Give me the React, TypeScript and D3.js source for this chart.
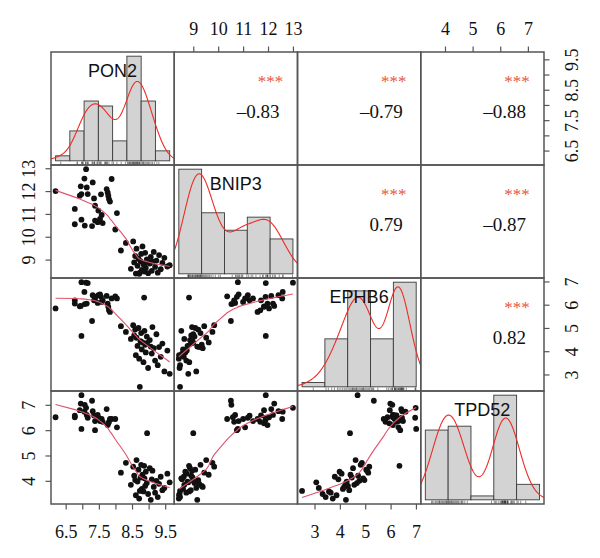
import { useEffect, useRef } from 'react';
import * as d3 from 'd3';

// Expression values per sample (69 samples, same order in every array)
const pon2 = [
  6.18, 7.1, 7.05, 6.94, 7.12, 7.3, 7.87, 6.96, 6.91, 7.15, 7.34, 7.55, 7.72, 7.75, 7.77, 7.79,
  7.82, 6.76, 7.37, 7.47, 7.57, 8.03, 6.96, 6.76, 7.06, 7.28, 7.37, 7.45, 7.52, 7.6, 7.98,
  8.15, 8.3, 8.45, 8.52, 8.55, 8.58, 8.6, 8.62, 8.65, 8.68, 8.7, 8.74, 8.76, 8.78, 8.8, 8.83,
  8.86, 8.88, 8.9, 8.93, 8.97, 9.02, 9.05, 9.08, 9.1, 9.14, 9.18, 9.22, 9.26, 9.3, 9.35, 9.4,
  9.46, 9.55, 9.62, 8.72, 8.85, 8.94,
];
const bnip3 = [
  12.02, 12.98, 12.57, 12.23, 12.18, 12.4, 12.55, 11.89, 11.82, 11.89, 11.7, 11.88, 12.11, 11.96,
  11.82, 11.67, 11.56, 11.24, 11.38, 11.17, 10.98, 11.06, 10.77, 10.57, 10.51, 10.49, 10.73, 10.66,
  10.8, 10.62, 10.34,
  9.42, 9.75, 8.62, 9.82, 8.9, 9.18, 8.41, 9.5, 8.75, 9.06, 8.4, 8.95, 9.27, 8.57, 9.6, 8.82,
  8.5, 9.32, 8.66, 9.03, 8.43, 8.85, 9.14, 8.53, 8.93, 9.36, 8.7, 8.98, 8.45, 9.22, 8.6, 8.88,
  9.1, 8.72, 8.78, 8.45, 8.81, 8.98,
];
const ephb6 = [
  5.86, 6.97, 6.57, 5.97, 6.07, 6.43, 6.29, 4.68, 5.95, 6.95, 6.21, 6.36, 6.4, 6.07, 5.93, 5.78,
  5.71, 6.21, 6.29, 6.43, 6.14, 6.29, 6.99, 6.07, 6.05, 5.32, 6.36, 6.1, 6.47, 6.21, 6.38,
  5.1, 4.85, 4.55, 5.14, 4.7, 4.95, 3.85, 4.6, 4.25, 5.02, 3.7, 4.45, 4.8, 4.1, 4.4, 3.55,
  4.9, 4.3, 3.97, 4.65, 3.3, 4.5, 4.22, 3.92, 5.06, 4.15, 3.62, 4.75, 3.42, 4.2, 3.78, 4.35,
  3.15, 4.05, 3.05, 2.49, 6.33, 4.38,
];
const tpd52 = [
  6.53, 6.9, 6.75, 7.07, 6.62, 6.77, 6.46, 7.4, 6.81, 6.51, 6.6, 6.42, 6.85, 6.22, 6.29, 6.35,
  6.46, 6.59, 6.38, 6.51, 6.46, 6.13, 6.07, 6.53, 7.02, 7.18, 6.02, 6.62, 6.38, 6.35, 6.46,
  4.34, 4.73, 3.86, 4.58, 4.22, 4.05, 3.45, 4.84, 3.99, 4.46, 3.32, 4.15, 4.65, 3.7, 4.26, 3.6,
  4.12, 3.82, 4.38, 3.93, 3.5, 4.52, 3.27, 4.08, 4.42, 3.78, 3.55, 4.02, 3.38, 3.9, 4.18, 3.65,
  3.74, 4.3, 3.96, 3.62, 4.61, 5.9,
];

const genes = ['PON2', 'BNIP3', 'EPHB6', 'TPD52'];
const series = [pon2, bnip3, ephb6, tpd52];

// histogram breaks
const pon2Breaks = [6, 6.5, 7, 7.5, 8, 8.5, 9, 9.5, 10];
const bnip3Breaks = [8, 9, 10, 11, 12, 13];
const ephb6Breaks = [2, 3, 4, 5, 6, 7];
const tpd52Breaks = [3, 4, 5, 6, 7, 8];
const breaks = [pon2Breaks, bnip3Breaks, ephb6Breaks, tpd52Breaks];

// axis ticks and the ones that get a label
const pon2Ticks = [6.5, 7, 7.5, 8, 8.5, 9, 9.5];
const pon2Labels = [6.5, 7.5, 8.5, 9.5];
const bnip3Ticks = [9, 10, 11, 12, 13];
const ephb6Ticks = [3, 4, 5, 6, 7];
const tpd52Ticks = [4, 5, 6, 7];
const ticks = [pon2Ticks, bnip3Ticks, ephb6Ticks, tpd52Ticks];
const tickLabels = [pon2Labels, bnip3Ticks, ephb6Ticks, tpd52Ticks];

// upper triangle: correlation text and significance
const corrCells = [
  [0, 1],
  [0, 2],
  [0, 3],
  [1, 2],
  [1, 3],
  [2, 3],
];
const corrText = ['\u20130.83', '\u20130.79', '\u20130.88', '0.79', '\u20130.87', '0.82'];
const corrStars = ['***', '***', '***', '***', '***', '***'];

const W = 600;
const H = 558;
const LEFT = 51;
const TOP = 52;
const CELL_W = 123.25;
const CELL_H = 113;
const SERIF = '"Liberation Serif", "Times New Roman", serif';
const SANS = '"Liberation Sans", Arial, sans-serif';

const padded = (v: number[]) => {
  const [a, b] = d3.extent(v) as [number, number];
  const p = (b - a) * 0.04;
  return [a - p, b + p];
};

// R-style lowess (f = 2/3, 3 robustness iterations)
function lowess(xIn: number[], yIn: number[], f = 2 / 3, iter = 3): [number, number][] {
  const order = d3.range(xIn.length).sort((a, b) => xIn[a] - xIn[b]);
  const x = order.map((i) => xIn[i]);
  const y = order.map((i) => yIn[i]);
  const n = x.length;
  const ns = Math.max(2, Math.min(n, Math.floor(f * n + 1e-7)));
  const range = x[n - 1] - x[0];
  const rw = new Array(n).fill(1);
  const fit = new Array(n).fill(0);

  for (let it = 0; it <= iter; it++) {
    let nleft = 0;
    let nright = ns - 1;
    for (let i = 0; i < n; i++) {
      while (nright < n - 1 && x[i] - x[nleft] > x[nright + 1] - x[i]) {
        nleft++;
        nright++;
      }
      const h = Math.max(x[i] - x[nleft], x[nright] - x[i]);
      const w = new Array(n).fill(0);
      let sw = 0;
      let last = nleft;
      for (let j = nleft; j < n; j++) {
        const r = Math.abs(x[j] - x[i]);
        if (r <= 0.999 * h) {
          w[j] = (r <= 0.001 * h ? 1 : Math.pow(1 - Math.pow(r / h, 3), 3)) * rw[j];
          sw += w[j];
          last = j;
        } else if (x[j] > x[i]) break;
      }
      if (sw <= 0) {
        fit[i] = y[i];
        continue;
      }
      for (let j = nleft; j <= last; j++) w[j] /= sw;
      if (h > 0) {
        let a = 0;
        for (let j = nleft; j <= last; j++) a += w[j] * x[j];
        let b = x[i] - a;
        let c = 0;
        for (let j = nleft; j <= last; j++) c += w[j] * (x[j] - a) * (x[j] - a);
        if (Math.sqrt(c) > 0.001 * range) {
          b /= c;
          for (let j = nleft; j <= last; j++) w[j] *= b * (x[j] - a) + 1;
        }
      }
      let s = 0;
      for (let j = nleft; j <= last; j++) s += w[j] * y[j];
      fit[i] = s;
    }
    if (it === iter) break;
    const res = y.map((v, i) => Math.abs(v - fit[i]));
    const cmad = 6 * (d3.median(res) as number);
    if (cmad < 1e-7 * (d3.mean(y, (v) => Math.abs(v)) as number)) break;
    for (let i = 0; i < n; i++) {
      const r = res[i];
      rw[i] = r <= 0.001 * cmad ? 1 : r <= 0.999 * cmad ? Math.pow(1 - (r / cmad) ** 2, 2) : 0;
    }
  }
  return x.map((v, i) => [v, fit[i]]);
}

// gaussian kernel density with the nrd0 bandwidth, like R's density()
function density(v: number[]): [number, number][] {
  const n = v.length;
  const sorted = v.slice().sort(d3.ascending);
  const sd = d3.deviation(v) as number;
  const iqr = (d3.quantile(sorted, 0.75) as number) - (d3.quantile(sorted, 0.25) as number);
  const bw = 0.9 * Math.min(sd, iqr / 1.34) * Math.pow(n, -0.2);
  const lo = sorted[0] - 3 * bw;
  const hi = sorted[n - 1] + 3 * bw;
  return d3.range(512).map((i) => {
    const x = lo + ((hi - lo) * i) / 511;
    const y =
      (d3.sum(v, (d) => Math.exp(-0.5 * ((x - d) / bw) ** 2)) / (n * bw)) / Math.sqrt(2 * Math.PI);
    return [x, y];
  });
}

export default function App() {
  const svgRef = useRef<SVGSVGElement>(null);

  useEffect(() => {
    if (!svgRef.current) return;
    document.body.style.margin = '0';

    const svg = d3.select(svgRef.current);
    svg.selectAll('*').remove();
    svg.append('rect').attr('width', W).attr('height', H).attr('fill', '#fff');

    const defs = svg.append('defs');
    const nVar = series.length;
    const cellX = (c: number) => LEFT + c * CELL_W;
    const cellY = (r: number) => TOP + r * CELL_H;

    const xScales = series.map((v, c) =>
      d3.scaleLinear().domain(padded(v)).range([cellX(c), cellX(c) + CELL_W])
    );
    const yScales = series.map((v, r) =>
      d3.scaleLinear().domain(padded(v)).range([cellY(r) + CELL_H, cellY(r)])
    );

    for (let r = 0; r < nVar; r++) {
      for (let c = 0; c < nVar; c++) {
        defs
          .append('clipPath')
          .attr('id', `clip-${r}-${c}`)
          .append('rect')
          .attr('x', cellX(c))
          .attr('y', cellY(r))
          .attr('width', CELL_W)
          .attr('height', CELL_H);
      }
    }

    // lower triangle: scatter + lowess
    for (let r = 1; r < nVar; r++) {
      for (let c = 0; c < r; c++) {
        const g = svg.append('g').attr('clip-path', `url(#clip-${r}-${c})`);
        const xs = series[c];
        const ys = series[r];
        g.selectAll('circle')
          .data(d3.range(xs.length))
          .join('circle')
          .attr('cx', (i) => xScales[c](xs[i]))
          .attr('cy', (i) => yScales[r](ys[i]))
          .attr('r', 2.9)
          .attr('fill', '#111');

        const line = d3
          .line<[number, number]>()
          .x((d) => xScales[c](d[0]))
          .y((d) => yScales[r](d[1]));
        g.append('path')
          .attr('d', line(lowess(xs, ys)))
          .attr('fill', 'none')
          .attr('stroke', '#DF536B')
          .attr('stroke-width', 1.1);
      }
    }

    // diagonal: histogram, density, rug, name
    for (let k = 0; k < nVar; k++) {
      const v = series[k];
      const br = breaks[k];
      const span = br[br.length - 1] - br[0];
      const x0 = cellX(k);
      const y0 = cellY(k);
      const hx = d3
        .scaleLinear()
        .domain([br[0] - 0.04 * span, br[br.length - 1] + 0.04 * span])
        .range([x0, x0 + CELL_W]);
      const bins = d3.bin().domain([br[0], br[br.length - 1]]).thresholds(br.slice(1, -1))(v);
      const dens = bins.map((b) => b.length / (v.length * ((b.x1 as number) - (b.x0 as number))));
      const maxD = d3.max(dens) as number;
      const hy = d3
        .scaleLinear()
        .domain([-0.04 * maxD, 1.04 * maxD])
        .range([y0 + CELL_H, y0]);

      const g = svg.append('g').attr('clip-path', `url(#clip-${k}-${k})`);
      g.selectAll('rect')
        .data(bins)
        .join('rect')
        .attr('x', (b) => hx(b.x0 as number))
        .attr('width', (b) => hx(b.x1 as number) - hx(b.x0 as number))
        .attr('y', (_, i) => hy(dens[i]))
        .attr('height', (_, i) => hy(0) - hy(dens[i]))
        .attr('fill', '#D3D3D3')
        .attr('stroke', '#3a3a3a')
        .attr('stroke-width', 0.9);

      const dline = d3
        .line<[number, number]>()
        .x((d) => hx(d[0]))
        .y((d) => hy(d[1]));
      g.append('path')
        .attr('d', dline(density(v)))
        .attr('fill', 'none')
        .attr('stroke', '#EE2B24')
        .attr('stroke-width', 1.1);

      g.selectAll('line.rug')
        .data(v)
        .join('line')
        .attr('class', 'rug')
        .attr('x1', (d) => hx(d))
        .attr('x2', (d) => hx(d))
        .attr('y1', y0 + CELL_H)
        .attr('y2', y0 + CELL_H - 0.03 * CELL_H)
        .attr('stroke', '#222')
        .attr('stroke-width', 0.5);

      svg
        .append('text')
        .attr('x', x0 + CELL_W / 2)
        .attr('y', y0 + CELL_H * (1 - 0.8333) + 0.36 * 18)
        .attr('text-anchor', 'middle')
        .style('font-family', SANS)
        .style('font-size', '18px')
        .style('fill', '#111')
        .text(genes[k]);
    }

    // upper triangle: correlations
    corrCells.forEach(([r, c], i) => {
      const x1 = cellX(c) + CELL_W;
      const y0 = cellY(r);
      svg
        .append('text')
        .attr('x', x1 - 27)
        .attr('y', y0 + 35)
        .attr('text-anchor', 'middle')
        .style('font-family', SERIF)
        .style('font-size', '17px')
        .style('fill', '#E8553A')
        .text(corrStars[i]);
      svg
        .append('text')
        .attr('x', x1 - 18)
        .attr('y', y0 + 66)
        .attr('text-anchor', 'end')
        .style('font-family', SERIF)
        .style('font-size', '19px')
        .style('fill', '#111')
        .text(corrText[i]);
    });

    // panel boxes
    for (let r = 0; r < nVar; r++) {
      for (let c = 0; c < nVar; c++) {
        svg
          .append('rect')
          .attr('x', cellX(c))
          .attr('y', cellY(r))
          .attr('width', CELL_W)
          .attr('height', CELL_H)
          .attr('fill', 'none')
          .attr('stroke', '#555')
          .attr('stroke-width', 1.5);
      }
    }

    // outer axes, alternating sides like pairs()
    const tickLen = 5.5;
    const axisG = svg.append('g').attr('stroke', '#555').attr('stroke-width', 1.2);
    const labelStyle = (t: d3.Selection<SVGTextElement, unknown, null, undefined>) =>
      t
        .attr('text-anchor', 'middle')
        .style('font-family', SERIF)
        .style('font-size', '18px')
        .style('fill', '#111');

    for (let k = 0; k < nVar; k++) {
      const isOdd = k % 2 === 1;
      const xs = xScales[k];
      const ys = yScales[k];
      if (isOdd) {
        // top and left
        ticks[k].forEach((t) => {
          axisG
            .append('line')
            .attr('x1', xs(t))
            .attr('x2', xs(t))
            .attr('y1', TOP)
            .attr('y2', TOP - tickLen);
          axisG
            .append('line')
            .attr('y1', ys(t))
            .attr('y2', ys(t))
            .attr('x1', LEFT)
            .attr('x2', LEFT - tickLen);
        });
        tickLabels[k].forEach((t) => {
          labelStyle(svg.append('text').attr('x', xs(t)).attr('y', 34.5)).text(String(t));
          labelStyle(
            svg.append('text').attr('transform', `translate(35,${ys(t)}) rotate(-90)`)
          ).text(String(t));
        });
      } else {
        // bottom and right
        const bottom = TOP + nVar * CELL_H;
        const right = LEFT + nVar * CELL_W;
        ticks[k].forEach((t) => {
          axisG
            .append('line')
            .attr('x1', xs(t))
            .attr('x2', xs(t))
            .attr('y1', bottom)
            .attr('y2', bottom + tickLen);
          axisG
            .append('line')
            .attr('y1', ys(t))
            .attr('y2', ys(t))
            .attr('x1', right)
            .attr('x2', right + tickLen);
        });
        tickLabels[k].forEach((t) => {
          labelStyle(svg.append('text').attr('x', xs(t)).attr('y', 537.5)).text(String(t));
          labelStyle(
            svg.append('text').attr('transform', `translate(578,${ys(t)}) rotate(-90)`)
          ).text(String(t));
        });
      }
    }
  }, []);

  return <svg ref={svgRef} width={W} height={H} style={{ display: 'block' }} />;
}
